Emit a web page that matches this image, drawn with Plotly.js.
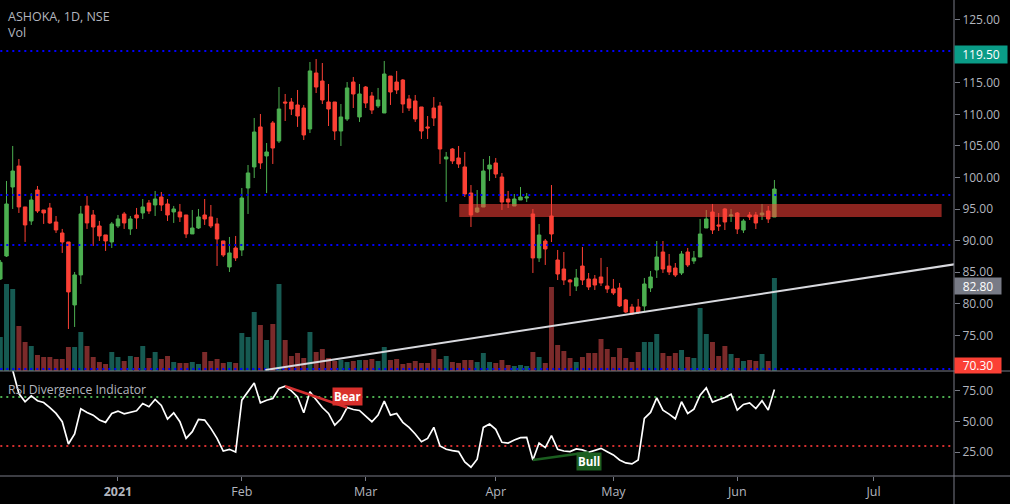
<!DOCTYPE html>
<html><head><meta charset="utf-8">
<script src="https://cdn.plot.ly/plotly-3.0.1.min.js"></script>
<style>html,body{margin:0;padding:0;background:#000;overflow:hidden}#c{width:1010px;height:504px}</style>
</head><body><div id="c"></div>
<script>
const open_=[83.94,87.58,98.50,101.82,95.34,93.12,98.03,94.86,95.18,92.96,91.22,89.80,79.83,84.58,95.50,94.07,92.33,90.91,89.80,92.33,94.23,91.86,94.07,94.39,95.97,95.65,96.92,95.81,94.55,94.55,94.07,91.07,92.01,94.07,93.76,92.65,89.96,85.84,88.85,88.53,98.34,101.67,108.00,103.41,108.63,105.78,111.95,111.95,111.48,111.00,107.68,116.54,115.27,111.95,111.95,107.36,109.26,115.11,109.58,114.32,112.90,111.32,110.21,116.06,115.11,115.43,112.43,112.11,111.16,108.00,111.00,111.32,102.93,104.51,103.09,101.67,97.55,94.54,95.33,101.35,102.30,100.08,96.60,95.49,96.44,96.76,94.23,87.27,89.95,93.91,86.95,85.52,83.78,82.83,85.99,83.94,83.94,84.26,82.83,82.36,82.52,80.62,79.51,79.51,79.67,82.52,85.37,88.21,85.99,85.68,84.89,88.21,86.79,87.42,92.01,94.54,92.49,95.02,93.91,94.38,91.69,94.07,94.07,94.07,94.70,93.75];
const high=[86.95,99.45,104.99,102.93,95.34,97.50,98.66,94.86,95.97,93.91,91.86,89.80,85.05,95.50,97.08,94.86,93.12,90.91,92.96,94.07,94.55,93.91,95.18,96.60,96.44,97.87,97.71,96.60,95.50,95.81,94.07,94.86,95.02,96.60,95.65,93.60,89.96,90.59,90.75,98.34,101.98,109.42,110.05,105.46,108.94,114.32,113.22,112.58,113.85,111.48,118.28,118.75,118.12,114.80,111.95,111.63,115.11,115.91,114.80,114.48,113.53,114.17,118.44,116.06,116.86,115.59,113.06,113.06,111.16,109.73,112.74,111.95,104.04,104.67,104.99,104.04,98.81,98.02,102.93,103.40,103.09,100.71,97.87,97.39,98.50,97.55,95.02,92.64,90.27,98.81,88.53,88.21,83.94,85.52,89.00,84.89,84.57,87.27,85.84,83.94,83.31,80.78,79.99,80.78,84.10,85.21,89.95,89.95,87.90,86.47,88.37,88.85,88.37,93.44,94.86,95.81,94.38,95.18,95.02,94.54,93.44,94.54,94.54,95.81,95.49,99.61];
const low=[83.79,87.43,95.02,94.39,89.80,92.49,94.39,92.65,92.65,91.22,88.06,76.03,76.35,83.15,91.86,89.17,89.96,88.38,88.85,92.01,91.86,90.91,91.86,93.44,94.23,93.91,94.70,93.12,92.81,92.96,90.43,91.07,91.86,92.49,92.01,86.00,87.43,85.05,86.79,87.58,94.23,99.92,101.35,97.55,102.14,105.46,108.94,109.89,108.00,105.94,107.04,113.37,111.63,108.15,105.94,104.99,108.94,111.00,108.79,111.00,110.05,111.00,110.21,111.48,113.22,110.21,110.52,108.79,106.10,106.10,108.15,102.14,96.13,102.14,101.51,96.92,92.17,94.38,95.33,99.45,99.92,94.86,95.18,95.49,96.44,96.12,84.89,86.63,86.16,89.79,83.78,82.99,81.25,82.04,82.99,82.20,82.20,82.83,81.73,81.41,79.51,78.56,78.25,78.40,78.88,81.88,84.10,84.89,84.57,84.26,84.57,85.84,86.32,87.42,92.01,91.06,91.54,91.69,92.96,91.06,91.22,93.28,91.85,93.28,92.80,93.75];
const close_=[86.58,95.81,101.03,95.34,92.49,96.44,94.70,94.39,92.81,91.70,89.80,81.89,84.58,94.23,92.81,92.17,90.75,89.96,92.65,93.44,92.81,93.44,93.60,95.34,94.70,96.60,95.65,94.07,95.02,93.76,91.07,92.01,93.76,93.44,92.33,90.27,87.74,88.06,87.27,96.76,100.72,107.20,102.30,104.04,104.67,110.84,111.79,110.84,109.73,106.73,116.86,114.32,112.27,110.84,107.36,109.58,114.17,113.22,113.22,111.79,110.68,112.27,116.38,113.53,113.85,111.63,111.00,109.26,107.36,107.84,109.42,104.51,103.25,102.62,102.14,97.39,94.07,95.18,101.03,101.98,100.55,96.12,96.12,96.60,96.92,96.92,87.27,90.90,88.69,91.06,84.73,83.78,83.47,84.10,83.78,82.68,82.99,83.31,82.36,81.73,79.67,78.72,78.40,78.72,83.15,84.26,87.42,85.52,85.05,84.57,87.90,86.16,87.27,91.06,93.44,91.69,92.33,92.96,94.07,91.85,93.12,93.75,92.80,94.38,93.44,98.18];
const volume=[1020,2610,2460,1350,870,750,480,420,420,360,360,720,720,1170,750,420,270,210,570,420,300,450,420,750,390,570,360,450,270,240,240,270,210,570,300,360,240,270,240,1140,1020,1770,1380,930,1410,2610,930,450,540,390,1170,570,660,390,300,330,270,300,330,330,360,300,720,330,360,210,240,300,240,240,660,360,450,270,240,330,330,270,540,270,240,330,180,150,180,150,570,420,240,2520,780,600,390,270,420,540,540,960,660,420,690,390,270,570,870,870,1110,540,450,540,630,420,390,1890,1110,870,450,750,510,390,300,330,300,510,300,2790];
const rsi=[95,96,91.8,72.8,66.1,70.9,66.9,65.5,61.4,56.6,49.8,31.6,39.8,60.4,57.4,55.2,51.2,49.3,56.6,58.5,56.3,57.4,58.7,64.7,62.0,68.0,63.1,52.0,57.1,49.8,36.2,41.7,51.7,51.2,44.4,36.2,25.9,27.3,25.1,67.4,74.2,81.5,65.2,67.4,68.8,76.9,78.8,75.0,70.1,57.1,74.2,68.2,61.4,56.6,47.1,52.0,61.4,59.8,59.0,54.4,49.8,55.2,66.6,55.2,56.6,49.3,45.2,39.8,33.5,36.2,45.2,30.0,27.3,26.2,25.4,17.0,12.7,19.2,45.2,47.9,43.6,33.0,32.4,34.9,36.8,37.1,18.6,32.4,28.7,38.4,27.3,25.9,25.4,27.6,26.8,24.9,26.5,28.1,25.4,22.7,18.6,16.2,15.4,18.6,52.5,57.4,69.3,59.3,56.0,52.2,66.1,56.6,60.1,71.5,77.4,65.8,67.7,69.6,72.3,59.3,63.9,65.2,60.6,66.9,59.3,76.1];
const xIdx=open_.map((_,i)=>i);
const xTickVals=[19,39,59,80,99,119,141];
const xTickText=['<b>2021</b>','Feb','Mar','Apr','May','Jun','Jul'];
const priceTicks=[125,115,110,105,100,95,90,85,80,75];
const rsiTicks=[75,50,25];
const blueLevels=[120.02,97.23,89.32,69.70];
const levelSpan=[0,153.4];
const trendX=[42.8,154.1], trendY=[69.55,86.27];
const zoneX=[74.1,152], zoneY=[93.75,95.8];
const rsiUpper=70, rsiLower=30;
const bearX=[46,56], bearY=[78.8,61.4];
const bullX=[86,95], bullY=[18.6,24.9];

const GREEN='#4caf50',RED='#fb4035',VG='#165a52',VR='#7b2a2a',TXT='#b2b5be',AX='#787b86';
const dot='2px,4px';
const traces=[
 {type:'bar',x:xIdx,y:volume,xaxis:'x',yaxis:'y',width:0.8,
  marker:{color:xIdx.map(i=>close_[i]>=open_[i]?VG:VR),line:{width:0}}},
 ...blueLevels.map(v=>({type:'scatter',mode:'lines',x:levelSpan,y:[v,v],xaxis:'x',yaxis:'y3',
  line:{color:'#0000ff',width:2,dash:dot}})),
 {type:'candlestick',x:xIdx,open:open_,high:high,low:low,close:close_,xaxis:'x',yaxis:'y3',whiskerwidth:0,
  increasing:{line:{color:GREEN,width:1},fillcolor:GREEN},
  decreasing:{line:{color:RED,width:1},fillcolor:RED}},
 {type:'scatter',mode:'lines',x:trendX,y:trendY,xaxis:'x',yaxis:'y3',line:{color:'#d8d9de',width:2}},
 {type:'scatter',mode:'lines',x:levelSpan,y:[rsiUpper,rsiUpper],xaxis:'x',yaxis:'y2',line:{color:GREEN,width:2,dash:dot}},
 {type:'scatter',mode:'lines',x:levelSpan,y:[rsiLower,rsiLower],xaxis:'x',yaxis:'y2',line:{color:'#d32f2f',width:2,dash:dot}},
 {type:'scatter',mode:'lines',x:xIdx,y:rsi,xaxis:'x',yaxis:'y2',line:{color:'#ffffff',width:1.7}},
 {type:'scatter',mode:'lines',x:bearX,y:bearY,xaxis:'x',yaxis:'y2',line:{color:'#d32f2f',width:2.5}},
 {type:'scatter',mode:'lines',x:bullX,y:bullY,xaxis:'x',yaxis:'y2',line:{color:'#1b5e20',width:2.5}}
];
const F='"Open Sans","Noto Sans",sans-serif';
const priceTag=(v,bg,w,h)=>({xref:'paper',x:1,xanchor:'left',yref:'y3',y:v,yanchor:'middle',text:v.toFixed(2),showarrow:false,
  bgcolor:bg,width:w,height:h,align:'center',font:{family:F,size:12,color:'#fff'},borderpad:0});
const note=(t,yp,sz)=>({xref:'paper',yref:'paper',x:6/954,y:1-yp/476,xanchor:'left',yanchor:'middle',text:t,showarrow:false,
  font:{family:F,size:sz,color:TXT}});
const layout={
 width:1010,height:504,margin:{l:0,r:56,t:0,b:28,pad:0},
 paper_bgcolor:'#000',plot_bgcolor:'#000',showlegend:false,hovermode:false,boxgap:0.2,bargap:0.2,
 font:{family:F,size:12,color:TXT},
 xaxis:{range:[-0.05,154.0],anchor:'y2',tickmode:'array',tickvals:xTickVals,ticktext:xTickText,
  rangeslider:{visible:false},showgrid:false,zeroline:false,showline:false,ticks:'outside',ticklen:4,tickcolor:AX,tickwidth:1,
  tickfont:{family:F,size:12.5,color:TXT}},
 yaxis:{domain:[105/476,1],range:[0,11130],visible:false,fixedrange:true},
 yaxis3:{domain:[105/476,1],overlaying:'y',side:'right',anchor:'x',range:[69.38,128.09],tickmode:'array',tickvals:priceTicks,
  ticktext:priceTicks.map(v=>v.toFixed(2)),showgrid:false,zeroline:false,showline:false,ticks:'outside',ticklen:5,tickcolor:AX,
  tickfont:{family:F,size:12,color:TXT}},
 yaxis2:{domain:[0,105/476],side:'right',anchor:'x',range:[5.51,91.22],tickmode:'array',tickvals:rsiTicks,
  ticktext:rsiTicks.map(v=>v.toFixed(2)),showgrid:false,zeroline:false,showline:false,ticks:'outside',ticklen:5,tickcolor:AX,
  tickfont:{family:F,size:12,color:TXT}},
 shapes:[
  {type:'rect',layer:'above',xref:'x',yref:'y3',x0:zoneX[0],x1:zoneX[1],y0:zoneY[0],y1:zoneY[1],fillcolor:'rgba(253,65,56,0.55)',line:{width:0}},
  {type:'line',xref:'paper',yref:'paper',x0:0,x1:1010/954,y0:105/476,y1:105/476,line:{color:AX,width:1}},
  {type:'line',xref:'paper',yref:'paper',x0:0,x1:1010/954,y0:0,y1:0,line:{color:AX,width:1}},
  {type:'line',xref:'paper',yref:'paper',x0:1,x1:1,y0:-28/476,y1:1,line:{color:AX,width:1}}
 ],
 annotations:[
  note('ASHOKA, 1D, NSE',17,12.5),note('Vol',33,12.5),note('RSI Divergence Indicator',389,12.2),
  priceTag(119.5,'#0a9c87',52,17),priceTag(82.8,'#787b86',46,16),priceTag(70.3,'#fb4035',46,15),
  {xref:'x',yref:'y2',x:56,y:70.4,text:'<b>Bear</b>',showarrow:false,bgcolor:'#d9302c',font:{family:F,size:11.5,color:'#fff'},borderpad:1},
  {xref:'x',yref:'y2',x:95,y:17.5,text:'<b>Bull</b>',showarrow:false,bgcolor:'#1b5e20',font:{family:F,size:11.5,color:'#fff'},borderpad:1}
 ]
};
Plotly.newPlot('c',traces,layout,{displayModeBar:false,staticPlot:true});
</script></body></html>
